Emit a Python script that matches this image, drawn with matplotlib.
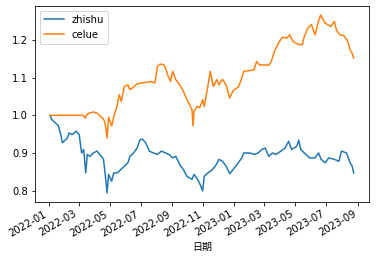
import pandas as pd
import matplotlib
matplotlib.use("Agg")
import matplotlib.pyplot as plt

# zhishu (index)
zhishu_dates = [
    "2022-01-04", "2022-01-07", "2022-01-14", "2022-01-20", "2022-01-25", "2022-01-28",
    "2022-02-07", "2022-02-10", "2022-02-17", "2022-02-24", "2022-03-02", "2022-03-07",
    "2022-03-11", "2022-03-15", "2022-03-18", "2022-03-23", "2022-03-30", "2022-04-06",
    "2022-04-12", "2022-04-19", "2022-04-22", "2022-04-26", "2022-04-29", "2022-05-05",
    "2022-05-09", "2022-05-16", "2022-05-23", "2022-05-30", "2022-06-06", "2022-06-10",
    "2022-06-17", "2022-06-24", "2022-06-30", "2022-07-05", "2022-07-11", "2022-07-18",
    "2022-07-26", "2022-08-03", "2022-08-11", "2022-08-19", "2022-08-26", "2022-09-02",
    "2022-09-08", "2022-09-16", "2022-09-23", "2022-09-30", "2022-10-10", "2022-10-14",
    "2022-10-21", "2022-10-26", "2022-10-31", "2022-11-03", "2022-11-10", "2022-11-16",
    "2022-11-25", "2022-12-02", "2022-12-09", "2022-12-16", "2022-12-23", "2022-12-30",
    "2023-01-09", "2023-01-16", "2023-01-20", "2023-02-01", "2023-02-09", "2023-02-17",
    "2023-02-24", "2023-03-03", "2023-03-10", "2023-03-17", "2023-03-24", "2023-04-03",
    "2023-04-11", "2023-04-18", "2023-04-24", "2023-05-04", "2023-05-08", "2023-05-12",
    "2023-05-19", "2023-05-29", "2023-06-09", "2023-06-16", "2023-06-21", "2023-06-29",
    "2023-07-06", "2023-07-17", "2023-07-26", "2023-07-31", "2023-08-10", "2023-08-17",
    "2023-08-21", "2023-08-24",
]
zhishu = [
    1.000, 0.989, 0.980, 0.973, 0.949, 0.927,
    0.940, 0.953, 0.949, 0.958, 0.949, 0.900,
    0.909, 0.847, 0.896, 0.891, 0.900, 0.905,
    0.896, 0.883, 0.847, 0.794, 0.843, 0.825,
    0.847, 0.847, 0.856, 0.865, 0.874, 0.891,
    0.900, 0.913, 0.936, 0.936, 0.927, 0.905,
    0.900, 0.896, 0.905, 0.900, 0.896, 0.887,
    0.891, 0.869, 0.856, 0.838, 0.830, 0.843,
    0.830, 0.816, 0.799, 0.838, 0.847, 0.852,
    0.865, 0.883, 0.878, 0.865, 0.845, 0.856,
    0.874, 0.887, 0.900, 0.900, 0.896, 0.900,
    0.909, 0.913, 0.891, 0.900, 0.896, 0.905,
    0.913, 0.931, 0.909, 0.918, 0.934, 0.909,
    0.900, 0.887, 0.887, 0.900, 0.883, 0.874,
    0.887, 0.883, 0.878, 0.905, 0.900, 0.874,
    0.865, 0.847,
]

# celue (strategy)
celue_dates = [
    "2022-01-04", "2022-03-10", "2022-03-14", "2022-03-17", "2022-03-22", "2022-03-30",
    "2022-04-06", "2022-04-12", "2022-04-19", "2022-04-22", "2022-04-26", "2022-04-29",
    "2022-05-05", "2022-05-09", "2022-05-16", "2022-05-20", "2022-05-24", "2022-05-30",
    "2022-06-06", "2022-06-10", "2022-06-17", "2022-06-24", "2022-07-04", "2022-07-13",
    "2022-07-22", "2022-07-29", "2022-08-03", "2022-08-08", "2022-08-15", "2022-08-19",
    "2022-08-24", "2022-08-29", "2022-09-02", "2022-09-08", "2022-09-16", "2022-09-23",
    "2022-09-30", "2022-10-10", "2022-10-12", "2022-10-14", "2022-10-20", "2022-10-25",
    "2022-10-31", "2022-11-03", "2022-11-09", "2022-11-15", "2022-11-21", "2022-11-28",
    "2022-12-02", "2022-12-09", "2022-12-16", "2022-12-23", "2022-12-30", "2023-01-09",
    "2023-01-13", "2023-01-20", "2023-02-01", "2023-02-09", "2023-02-14", "2023-02-20",
    "2023-03-02", "2023-03-10", "2023-03-15", "2023-03-21", "2023-03-29", "2023-04-06",
    "2023-04-14", "2023-04-20", "2023-04-27", "2023-05-08", "2023-05-15", "2023-05-19",
    "2023-05-26", "2023-06-02", "2023-06-09", "2023-06-14", "2023-06-20", "2023-06-29",
    "2023-07-10", "2023-07-17", "2023-07-21", "2023-07-28", "2023-08-04", "2023-08-11",
    "2023-08-17", "2023-08-21", "2023-08-24",
]
celue = [
    1.000, 1.000, 0.993, 1.002, 1.006, 1.009,
    1.006, 0.999, 0.990, 0.980, 0.940, 0.995,
    0.972, 0.995, 1.028, 1.055, 1.037, 1.077,
    1.081, 1.068, 1.075, 1.084, 1.086, 1.088,
    1.090, 1.086, 1.130, 1.136, 1.135, 1.126,
    1.104, 1.090, 1.117, 1.095, 1.081, 1.064,
    1.042, 1.015, 0.972, 1.011, 1.024, 1.020,
    1.042, 1.024, 1.068, 1.117, 1.077, 1.095,
    1.081, 1.096, 1.081, 1.046, 1.066, 1.075,
    1.088, 1.117, 1.119, 1.121, 1.143, 1.134,
    1.134, 1.133, 1.143, 1.170, 1.192, 1.208,
    1.205, 1.214, 1.196, 1.188, 1.188, 1.210,
    1.232, 1.241, 1.214, 1.241, 1.267, 1.245,
    1.236, 1.250, 1.227, 1.214, 1.212, 1.201,
    1.174, 1.165, 1.152,
]

fig = plt.figure(figsize=(376 / 72, 260 / 72), dpi=72)
ax = fig.add_axes([0.093, 0.224, 0.888, 0.753])

ax.plot(pd.to_datetime(zhishu_dates), zhishu, label="zhishu")
ax.plot(pd.to_datetime(celue_dates), celue, label="celue")

ax.legend(loc="upper left")
ax.set_xlabel("日期", family=["Noto Sans CJK SC", "DejaVu Sans"])
fig.autofmt_xdate()
ax.set_position([0.093, 0.224, 0.888, 0.753])

plt.savefig("out.png", dpi=72)
plt.close()
